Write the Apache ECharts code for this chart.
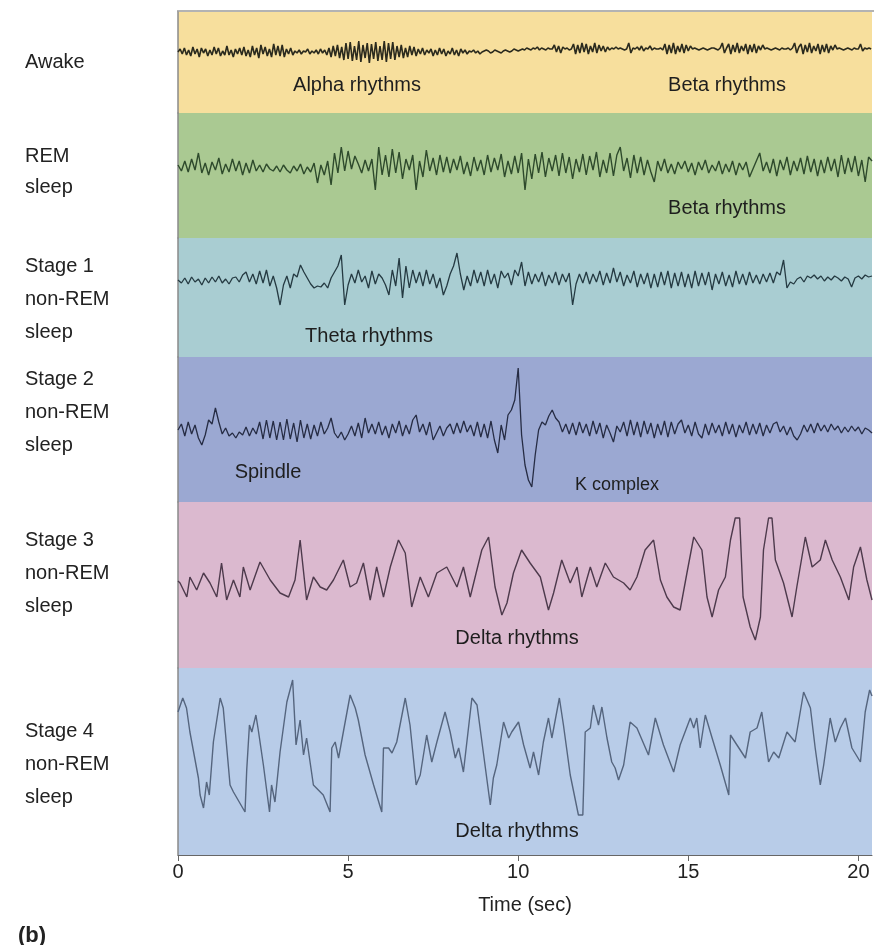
<!DOCTYPE html>
<html>
<head>
<meta charset="utf-8">
<script src="https://cdn.jsdelivr.net/npm/echarts@6/dist/echarts.min.js"></script>
<style>
html,body{margin:0;padding:0;background:#fff;}
#chart{width:874px;height:945px;}
</style>
</head>
<body>
<div id="chart"></div>
<script>
// ---- Data (amplitudes in display units, positive = up) ----
const stageNames = ['Awake', 'REM\nsleep', 'Stage 1\nnon-REM\nsleep', 'Stage 2\nnon-REM\nsleep', 'Stage 3\nnon-REM\nsleep', 'Stage 4\nnon-REM\nsleep'];
const xTicks = [0, 5, 10, 15, 20];

// Awake: sampled every 1/16 s
const awakeStep = 0.0625;
const awakeValues = [
  0,3,-2,4,-3,2,-4,5,-2,3,-5,4,-1,3,-4,2,
  -3,5,-2,4,-4,1,-3,6,-3,2,-5,3,-2,4,-3,5,
  -4,2,-5,6,-3,4,-6,7,-2,5,-4,3,-5,8,-3,6,
  -4,7,-5,3,-2,4,-3,1,-1,2,-2,1,0,3,-2,1,
  -1,2,-2,3,-1,2,-3,4,-5,6,-4,7,-6,5,-8,9,
  -7,10,-9,6,-8,11,-10,7,-6,9,-11,8,-7,10,-9,6,
  -8,11,-10,9,-7,10,-8,6,-5,7,-6,4,-5,6,-3,5,
  -4,3,-2,4,-3,2,-1,3,-4,2,-3,4,-2,3,-4,1,
  -2,4,-3,2,-4,3,-1,2,-2,1,0,2,-1,1,-2,0,
  1,2,1,-1,0,2,1,0,-1,1,2,1,0,1,3,2,
  1,2,3,2,4,3,2,4,3,5,2,4,3,2,4,3,
  3,7,0,6,-1,5,3,4,2,3,8,-2,7,-1,9,0,
  8,-2,6,0,9,-1,7,1,6,0,5,2,4,3,5,3,
  4,3,2,3,9,-1,4,3,5,2,6,1,4,3,6,2,
  4,3,3,4,2,8,-2,7,-1,9,-2,6,0,8,-1,7,
  1,6,3,4,3,2,3,4,3,2,3,4,4,3,2,4,
  9,-1,4,8,-2,7,0,9,-1,6,1,8,-2,7,0,8,
  -1,6,2,7,3,4,3,2,3,4,3,2,4,3,3,4,
  2,4,9,-1,5,8,-2,7,0,9,-1,6,1,8,-2,7,
  0,8,-1,6,2,7,3,4,3,2,3,4,3,2,4,3,
  3,8,1,4,3,4,3
];

// REM: sampled every 0.1 s
const remStep = 0.1;
const remValues = [
  2,-4,6,-5,8,-3,14,-6,4,-8,
  5,-3,9,-7,3,-5,8,-4,6,-8,
  4,-6,7,-4,2,-5,3,-2,-4,1,
  -5,2,-3,-6,1,-4,3,-7,0,-5,
  4,-16,2,-8,6,-18,14,-6,20,-4,
  16,-2,11,3,-6,7,-4,8,-23,20,
  -8,12,-10,18,-6,15,-12,8,-3,12,
  -23,6,-10,17,-4,9,-8,12,-5,10,
  -6,8,-3,11,-7,5,-9,10,-4,7,
  -8,12,-5,9,-3,13,-10,6,-7,11,
  -6,14,-23,8,-12,13,-6,15,-10,9,
  -4,12,-9,14,-6,10,-12,8,-5,13,
  -8,11,-3,15,-10,7,-6,14,-9,12,
  20,-4,9,-11,12,-6,10,-8,7,-5,
  -15,6,-4,8,-6,3,-7,5,-2,6,
  -5,4,-8,5,-3,7,-6,2,-4,6,
  -7,3,-5,6,-8,4,-3,5,-10,-2,
  6,14,-4,5,-6,8,-9,7,-3,10,
  -8,6,-4,9,-7,11,-5,8,-9,7,
  -6,10,-4,8,-10,12,-7,9,-5,11,
  -9,7,-15,10,6
];

// Stage 1: sampled every 0.1 s
const s1Step = 0.1;
const s1Values = [
  0,-3,2,-4,3,-2,1,-5,2,-3,
  3,-2,4,-3,1,-4,2,3,-2,5,
  8,-2,6,-4,9,-3,10,-6,4,-8,
  -25,-5,4,-8,6,3,15,8,2,-4,
  -8,-6,-7,-3,-8,2,8,14,25,-25,
  -5,6,-3,10,-2,4,-8,9,-4,6,
  2,-5,-15,10,-6,22,-18,14,-8,10,
  -3,8,-6,10,-4,6,-8,2,-15,-6,
  6,14,27,6,-10,4,-6,10,-3,8,
  -6,10,-4,6,-8,9,2,7,-5,10,
  4,18,-6,8,-4,6,-2,8,-6,5,
  -3,8,-5,6,-2,7,-25,-4,6,-3,
  8,-4,6,-2,9,-5,7,-3,12,-2,
  8,-6,5,-3,9,-7,6,-4,7,-8,
  6,-7,8,-5,9,-8,7,-6,8,-7,
  6,-8,9,-6,7,-5,8,-10,6,-4,
  8,-6,5,-7,9,-4,6,-5,8,-3,
  5,-4,6,-2,7,-3,8,5,20,-8,
  -2,-4,1,3,-2,4,2,5,1,4,
  -1,3,0,4,2,-1,3,1,-7,2,
  4,1,5,3,4
];

// Stage 2: sampled every 0.1 s (spindle ~2.3-3.9 s, K complex ~10 s)
const s2Step = 0.1;
const s2Values = [
  0,6,-6,8,-4,5,-8,-15,-5,10,
  6,22,8,-4,2,-6,-3,-8,-2,-5,
  3,-6,2,-4,8,-9,10,-8,9,-10,
  8,-10,11,-9,7,-12,10,-8,6,-9,
  5,-6,8,-4,2,12,-3,-8,-2,-10,
  -4,4,-6,7,-8,12,-3,6,-4,8,
  -5,4,-8,6,-3,9,-6,5,-4,10,
  15,-2,6,-5,8,-10,-3,4,-6,2,
  6,-4,7,-3,9,-2,5,-6,8,-7,
  6,-8,9,-10,-23,5,-10,15,20,30,
  62,-5,-35,-50,-57,-25,0,8,5,14,
  20,12,8,-2,6,-4,7,-5,8,-3,
  6,-6,9,-4,7,-8,5,-3,-12,4,
  -2,8,-6,10,-5,8,-7,9,-4,7,
  -8,6,-5,9,-7,8,-4,6,10,-3,
  5,-6,8,-4,-8,6,-5,7,-3,5,
  -6,8,-4,6,-7,5,-3,8,-5,6,
  -4,7,-6,5,-3,6,8,-2,4,-5,
  3,-6,-10,-4,5,-2,6,-3,7,-1,
  5,-2,6,0,4,-3,3,-2,4,-1,
  3,-4,2,0,-3
];

// Stage 3: turning points (time s, value)
const s3Times = [0.0,0.06,0.26,0.35,0.55,0.75,0.94,1.14,1.28,1.43,1.63,1.82,1.92,2.12,2.41,2.71,3.0,3.25,3.44,3.59,3.78,3.98,4.18,4.37,4.57,4.86,5.06,5.25,5.45,5.65,5.84,6.04,6.24,6.48,6.68,6.87,7.12,7.36,7.61,7.9,8.2,8.39,8.59,8.93,9.13,9.32,9.52,9.67,9.86,10.1,10.35,10.65,10.89,11.04,11.28,11.53,11.73,11.87,12.12,12.31,12.56,12.8,13.1,13.29,13.49,13.73,13.98,14.18,14.37,14.57,14.76,14.96,15.16,15.4,15.55,15.7,15.89,16.09,16.24,16.38,16.51,16.61,16.82,16.97,17.12,17.21,17.36,17.46,17.56,17.8,18.05,18.19,18.44,18.64,18.88,19.03,19.23,19.47,19.72,19.86,20.06,20.25,20.4];
const s3Values = [2,0,-14,6,-7,10,0,-14,20,-17,3,-14,16,-7,21,3,-10,-14,3,43,-17,6,-4,-7,3,23,-4,0,20,-17,16,-14,16,43,30,-24,6,-14,10,16,-4,16,-14,33,46,-4,-32,-20,10,33,20,6,-27,-10,23,0,16,-14,16,-4,20,6,0,-7,6,33,43,3,-14,-24,-27,10,46,33,-14,-34,-7,6,43,65,65,-14,-44,-57,-34,33,65,65,23,0,-34,-4,46,16,23,43,23,6,-17,16,36,3,-17];

// Stage 4: turning points (time s, value)
const s4Times = [0.0,0.14,0.25,0.35,0.6,0.65,0.75,0.84,0.92,1.04,1.24,1.33,1.53,1.63,1.97,2.02,2.1,2.17,2.29,2.36,2.51,2.69,2.75,2.85,3.0,3.2,3.37,3.47,3.59,3.69,3.78,3.98,4.27,4.47,4.52,4.62,4.72,4.86,5.06,5.21,5.3,5.5,5.75,5.99,6.04,6.19,6.29,6.43,6.68,6.82,7.0,7.12,7.31,7.46,7.61,7.85,8.0,8.15,8.25,8.39,8.64,8.79,9.18,9.27,9.37,9.57,9.72,9.81,10.01,10.16,10.35,10.45,10.6,10.74,10.89,10.99,11.21,11.33,11.53,11.77,11.9,11.97,12.12,12.21,12.36,12.46,12.61,12.75,12.85,12.95,13.1,13.29,13.49,13.83,14.03,14.27,14.57,14.76,15.06,15.16,15.25,15.35,15.5,15.7,15.94,16.19,16.24,16.43,16.68,16.82,17.02,17.16,17.36,17.51,17.66,17.9,18.14,18.39,18.59,18.73,18.88,18.98,19.17,19.32,19.47,19.62,19.81,20.06,20.2,20.33,20.4];
const s4Values = [38,52,42,18,-28,-45,-58,-32,-45,8,52,42,-35,-42,-62,-20,25,18,35,20,-15,-62,-35,-52,-2,48,70,5,30,-5,12,-35,-45,-62,2,8,-8,18,55,42,30,-5,-35,-62,2,2,-3,8,52,25,-35,-25,15,-12,8,38,18,-8,2,-22,52,45,-55,-28,-15,28,12,18,28,5,-18,-2,-25,8,32,12,52,25,-25,-65,-65,18,22,45,25,43,12,-12,-18,-30,-15,28,22,-5,32,5,-22,5,32,22,32,2,35,12,-15,-45,15,5,-8,18,22,38,-12,-2,-8,18,8,58,42,2,-35,-15,32,8,22,32,2,-12,38,60,54];

// ---- Layout / style (not data) ----
const bands = [
  {top: 12,  bottom: 113, base: 52,  bg: '#f7df9d', line: '#2a2a1e', lw: 1.6},
  {top: 113, bottom: 238, base: 167, bg: '#aac992', line: '#2e4a2c', lw: 1.4},
  {top: 238, bottom: 357, base: 280, bg: '#a9cdd2', line: '#253a42', lw: 1.3},
  {top: 357, bottom: 502, base: 430, bg: '#9ba8d2', line: '#262c44', lw: 1.3},
  {top: 502, bottom: 668, base: 583, bg: '#dbb9cf', line: '#4d3a4c', lw: 1.4},
  {top: 668, bottom: 855, base: 750, bg: '#b8cce8', line: '#55657e', lw: 1.4}
];
const xMax = 20.4;

function uniform(vals, step) { return vals.map((v, i) => [i * step, v]); }
function paired(ts, vs) { return ts.map((t, i) => [t, vs[i]]); }
const seriesData = [
  uniform(awakeValues, awakeStep),
  uniform(remValues, remStep),
  uniform(s1Values, s1Step),
  uniform(s2Values, s2Step),
  paired(s3Times, s3Values),
  paired(s4Times, s4Values)
];

const FONT = 'Liberation Sans, Arial, sans-serif';
const grids = [], xAxes = [], yAxes = [], series = [];
bands.forEach((b, i) => {
  grids.push({left: 178, right: 2, top: b.top, height: b.bottom - b.top, show: true,
    backgroundColor: b.bg, borderWidth: 0});
  const last = i === bands.length - 1;
  xAxes.push({type: 'value', gridIndex: i, min: 0, max: xMax, interval: 5, show: last,
    position: 'bottom',
    axisLine: {show: last, onZero: false, lineStyle: {color: '#666', width: 1}},
    axisTick: {show: last, length: 6, customValues: xTicks, lineStyle: {color: '#666'}},
    axisLabel: {show: last, fontSize: 20, color: '#222', fontFamily: FONT, margin: 7,
      customValues: xTicks,
      formatter: v => xTicks.indexOf(v) >= 0 ? String(v) : ''},
    splitLine: {show: false},
    name: last ? 'Time (sec)' : '', nameLocation: 'middle', nameGap: 40,
    nameTextStyle: {fontSize: 20, color: '#222', fontFamily: FONT}});
  yAxes.push({type: 'value', gridIndex: i, min: -(b.bottom - b.base), max: b.base - b.top,
    axisLine: {show: true, onZero: false, lineStyle: {color: '#8a8a8a', width: 1.5}},
    axisTick: {show: false}, axisLabel: {show: false}, splitLine: {show: false}});
  series.push({type: 'line', xAxisIndex: i, yAxisIndex: i, data: seriesData[i],
    showSymbol: false, symbol: 'none', animation: false,
    lineStyle: {color: b.line, width: b.lw}});
});

const graphic = [];
// top border
graphic.push({type: 'line', shape: {x1: 177, y1: 11, x2: 874, y2: 11}, style: {stroke: '#9a9a9a', lineWidth: 1.5}});
// stage labels on left
stageNames.forEach((name, i) => {
  const lines = name.split('\n');
  const tops = [[52], [146, 177], [256, 289, 322], [369, 402, 435], [530, 563, 596], [721, 754, 787]][i];
  lines.forEach((ln, j) => {
    graphic.push({type: 'text', left: 25, top: tops[j],
      style: {text: ln, fontSize: 20, fill: '#222', font: '20px ' + FONT}});
  });
});
const notes = [
  {t: 'Alpha rhythms', x: 357, y: 75, s: 20},
  {t: 'Beta rhythms', x: 727, y: 75, s: 20},
  {t: 'Beta rhythms', x: 727, y: 198, s: 20},
  {t: 'Theta rhythms', x: 369, y: 326, s: 20},
  {t: 'Spindle', x: 268, y: 462, s: 20},
  {t: 'K complex', x: 617, y: 476, s: 18},
  {t: 'Delta rhythms', x: 517, y: 628, s: 20},
  {t: 'Delta rhythms', x: 517, y: 821, s: 20}
];
notes.forEach(n => {
  graphic.push({type: 'text', x: n.x, y: n.y,
    style: {text: n.t, font: n.s + 'px ' + FONT, fill: '#1e1e1e', textAlign: 'center', textVerticalAlign: 'top'}});
});
graphic.push({type: 'text', x: 18, y: 925, style: {text: '(b)', font: 'bold 22px ' + FONT, fill: '#222'}});

const chart = echarts.init(document.getElementById('chart'), null, {renderer: 'canvas'});
chart.setOption({
  animation: false,
  backgroundColor: '#ffffff',
  grid: grids, xAxis: xAxes, yAxis: yAxes, series: series, graphic: graphic
});
</script>
</body>
</html>
